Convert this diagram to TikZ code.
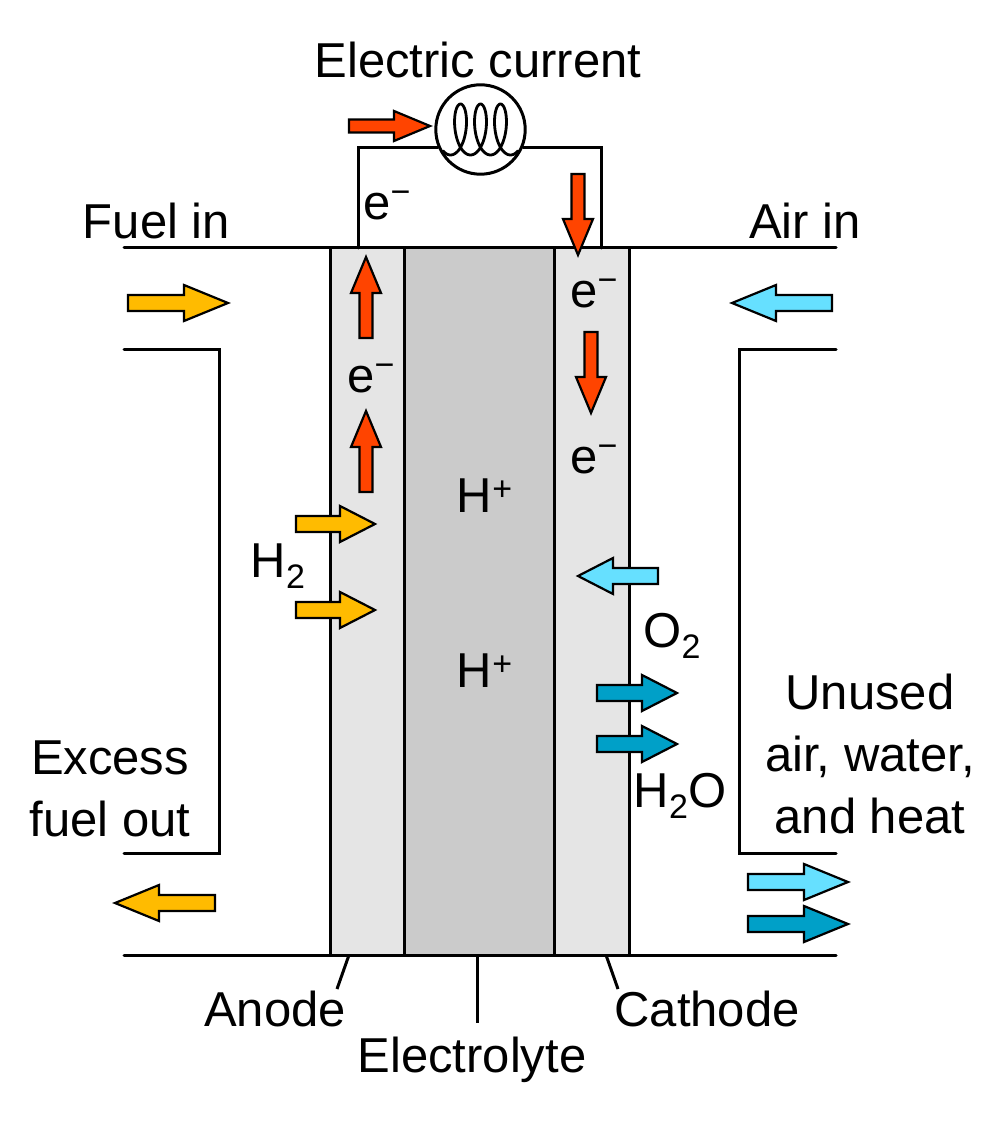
\documentclass[tikz,border=0pt]{standalone}
\usepackage{fontspec}
\setmainfont{Liberation Sans}
\usepackage{tikz}

\definecolor{elecred}{HTML}{FF4400}
\definecolor{fuelyel}{HTML}{FFBB00}
\definecolor{airblue}{HTML}{66E0FF}
\definecolor{wetblue}{HTML}{00A0C8}
\definecolor{platelt}{HTML}{E5E5E5}
\definecolor{platedk}{HTML}{CBCBCB}

\newcommand{\smallup}[2]{\raisebox{#1}{\fontsize{17}{17}\selectfont #2}}
\newcommand{\minussup}{\smallup{8pt}{−}}
\newcommand{\plussup}{\smallup{6pt}{+}}
\newcommand{\twosub}{\smallup{-5.7pt}{2}}

\tikzset{
  wire/.style={line width=1.5pt,line cap=round,line join=miter},
  flow/.style={line width=1.1pt,line join=miter},
  lbl/.style={font=\fontsize{24.5}{31}\selectfont,anchor=base,inner sep=0pt,align=center},
}

\begin{document}
\begin{tikzpicture}[x=0.5pt,y=-0.5pt]
\useasboundingbox (0,0) rectangle (1000,1122);
\fill[white] (0,0) rectangle (1000,1122);

% plates
\filldraw[wire,fill=platelt] (330.3,248) rectangle (404.5,955);
\filldraw[wire,fill=platedk] (404.5,248) rectangle (554.5,955);
\filldraw[wire,fill=platelt] (554.5,248) rectangle (629.3,955);

% channel walls
\draw[wire] (124,248) -- (836,248);
\draw[wire] (124,955) -- (836,955);
\draw[wire] (124,350) -- (219,350) -- (219,853) -- (124,853);
\draw[wire] (836,350) -- (739,350) -- (739,853) -- (836,853);

% circuit and lamp
\node[circle,draw,line width=1.5pt,fill=white,minimum size=44.7pt,inner sep=0pt] (lamp) at (480.5,129.5) {};
\coordinate (wireL) at (358,248);
\coordinate (wireR) at (601,248);
\draw[wire] (wireL) -- (wireL |- lamp.203) -- (lamp.203);
\draw[wire] (wireR) -- (wireR |- lamp.337) -- (lamp.337);
\draw[wire,line width=1.4pt] plot[samples=160,domain=-573:573]
  ({480.5+3.18*rad(\x)-10.5*sin(\x)},{129.5-25.5*cos(\x)});

% electron arrows
\foreach \x/\y/\a in {349/126/0,578/174/-90,366/338/90,366/492/90,591/332/-90} {
  \draw[flow,fill=elecred,shift={(\x,\y)},rotate=\a]
    (0,-6.5) -- (45,-6.5) -- (45,-15) -- (81,0) -- (45,15) -- (45,6.5) -- (0,6.5) -- cycle;
}
% gas arrows
\foreach \x/\y/\a/\l/\h/\c in {128/303/0/100/44/fuelyel,296/524/0/79/35/fuelyel,296/610/0/79/35/fuelyel,
  215/903/180/100/44/fuelyel,832/303/180/100/44/airblue,658/576/180/80/35/airblue,748/882/0/100/44/airblue,
  597/693/0/80/35/wetblue,597/744/0/80/35/wetblue,748/924/0/100/44/wetblue} {
  \draw[flow,fill=\c,shift={(\x,\y)},rotate=\a]
    (0,-8) -- (\l-\h,-8) -- (\l-\h,-18) -- (\l,0) -- (\l-\h,18) -- (\l-\h,8) -- (0,8) -- cycle;
}

% leaders
\node[lbl] (anode) at (275,1026) {Anode};
\node[lbl] (cathode) at (707,1026) {Cathode};
\node[lbl] (electrolyte) at (472,1072) {Electrolyte};
\coordinate (anodeTop) at (349,955);
\coordinate (cathodeTop) at (606,955);
\coordinate (electrolyteTop) at (477,955);
\draw[wire,line cap=butt] (anodeTop) -- (337,989);
\draw[wire,line cap=butt] (cathodeTop) -- (618,989);
\draw[wire,line cap=butt] (electrolyteTop) -- (477,1023);

% labels
\node[lbl] (current) at (478,78) {Electric current};
\node[lbl] (fuelin) at (156.5,239) {Fuel in};
\node[lbl] (airin) at (805,239) {Air in};
\foreach \x/\y/\n in {387/220/eA,594/308/eB,371/393/eC,594/473/eD} {
  \node[lbl] (\n) at (\x,\y) {e\minussup};
}
\foreach \y/\n in {512/hA,687/hB} {
  \node[lbl] (\n) at (484.5,\y) {H\plussup};
}
\node[lbl] (htwo) at (278,577) {H\twosub};
\node[lbl] (otwo) at (672,647) {O\twosub};
\node[lbl] (water) at (680,807) {H\twosub O};
\node[lbl] (unused) at (870,833) {Unused\\air, water,\\and heat};
\node[lbl] (excess) at (110,836) {Excess\\fuel out};
\end{tikzpicture}
\end{document}
